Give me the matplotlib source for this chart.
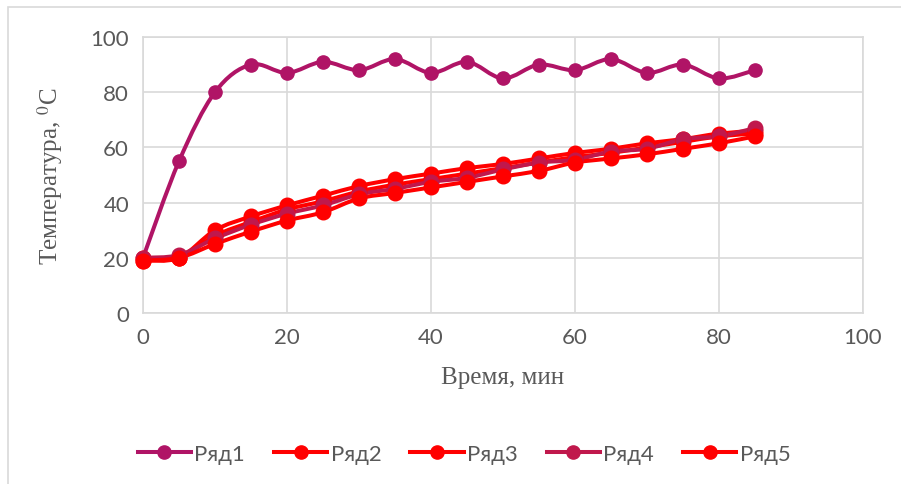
"""Temperature vs time, five series (Ряд1..Ряд5), Excel-style smoothed lines."""
import matplotlib
matplotlib.use("Agg")
import matplotlib.pyplot as plt
from matplotlib.lines import Line2D
from matplotlib.patches import PathPatch, Rectangle
from matplotlib.path import Path

# ---------------------------------------------------------------------
# data
# ---------------------------------------------------------------------
time_min = [0, 5, 10, 15, 20, 25, 30, 35, 40, 45, 50, 55, 60, 65, 70, 75, 80, 85]
row1 = [20, 55, 80, 90, 87, 91, 88, 92, 87, 91, 85, 90, 88, 92, 87, 90, 85, 88]
row2 = [19, 20, 30, 35, 39, 42.5, 46, 48.5, 50.5, 52.5, 54, 56, 58, 59.5, 61.5, 63, 65, 66]
row3 = [20, 20, 28, 33, 37.5, 40.5, 44, 46.5, 48.5, 50.5, 52.5, 54.5, 56.5, 58, 60, 62, 64, 65]
row4 = [20, 21, 27, 32, 36, 39, 43, 45, 47.5, 49, 52, 54.5, 55.5, 58.5, 59.5, 63, 64, 67]
row5 = [19, 20, 25, 29.5, 33.5, 36.5, 41.5, 43.5, 45.5, 47.5, 49.5, 51.5, 54.5, 56, 57.5, 59.5, 61.5, 64]
series_names = ["Ряд1", "Ряд2", "Ряд3", "Ряд4", "Ряд5"]
series_values = [row1, row2, row3, row4, row5]
series_colors = ["#B01466", "#FF0000", "#FF0000", "#C0184C", "#FF0000"]
series_msize = [9.5, 10.5, 10.5, 10.5, 10.5]
x_ticks = [0, 20, 40, 60, 80, 100]
y_ticks = [0, 20, 40, 60, 80, 100]

GRID = "#D9D9D9"
TEXT = "#595959"
TICK_FONT = ["Lato", "DejaVu Sans"]
plt.rcParams["mathtext.fontset"] = "stix"


def smooth_path(xs, ys):
    """Catmull-Rom style bezier through the points (like Excel 'smoothed line')."""
    pts = list(zip(xs, ys))
    verts = [pts[0]]
    codes = [Path.MOVETO]
    for i in range(len(pts) - 1):
        p0 = pts[i - 1] if i > 0 else pts[i]
        p1 = pts[i]
        p2 = pts[i + 1]
        p3 = pts[i + 2] if i + 2 < len(pts) else pts[i + 1]
        c1 = (p1[0] + (p2[0] - p0[0]) / 6, p1[1] + (p2[1] - p0[1]) / 6)
        c2 = (p2[0] - (p3[0] - p1[0]) / 6, p2[1] - (p3[1] - p1[1]) / 6)
        verts += [c1, c2, p2]
        codes += [Path.CURVE4] * 3
    return Path(verts, codes)


fig = plt.figure(figsize=(9.01, 4.85), dpi=100)
fig.patches.append(Rectangle((8 / 901, -0.1), 1.2, 1 - 8 / 485 + 0.1, transform=fig.transFigure,
                             fill=False, edgecolor=GRID, linewidth=1.2))
ax = fig.add_axes([143 / 901, 1 - 314 / 485, 720 / 901, 276 / 485])

handles = []
for name, vals, col, ms in zip(series_names, series_values, series_colors, series_msize):
    ax.add_patch(PathPatch(smooth_path(time_min, vals), fill=False, edgecolor=col,
                           linewidth=2.9, capstyle="round", joinstyle="round", zorder=3))
    ax.plot(time_min, vals, linestyle="none", marker="o", markersize=ms,
            color=col, zorder=4, clip_on=False)
    handles.append(Line2D([], [], color=col, linewidth=2.9, marker="o", markersize=9.5, label=name))

ax.set_xlim(0, 100)
ax.set_ylim(0, 100)
ax.set_xticks(x_ticks)
ax.set_yticks(y_ticks)
ax.grid(True, color=GRID, linewidth=1.2, zorder=0)
ax.set_axisbelow(True)
for sp in ax.spines.values():
    sp.set_color(GRID)
    sp.set_linewidth(1.2)
ax.tick_params(length=0, pad=10, labelcolor=TEXT, labelsize=16)
for lab in ax.get_xticklabels() + ax.get_yticklabels():
    lab.set_family(TICK_FONT)

ax.set_xlabel("Время, мин", family="Liberation Serif", fontsize=18, color=TEXT, labelpad=14)
ax.set_ylabel("Температура, $^0$C", family="Liberation Serif", fontsize=18, color=TEXT, labelpad=18)

fig.legend(handles=handles, loc="center", bbox_to_anchor=(464 / 901, 1 - 455 / 485), ncol=5,
           frameon=False, prop={"family": TICK_FONT, "size": 16}, labelcolor=TEXT,
           handlelength=2.4, handletextpad=0.15, columnspacing=1.3)

fig.savefig("out.png", dpi=100)
print("saved out.png")
